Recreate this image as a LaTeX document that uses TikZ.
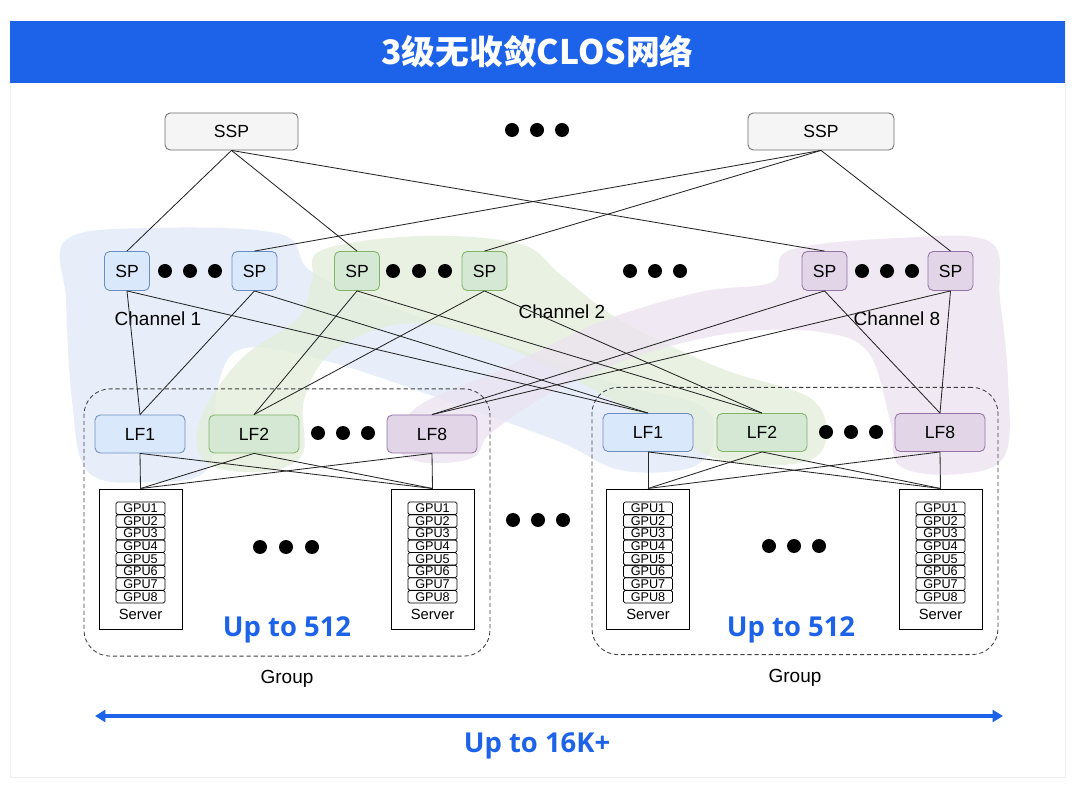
\documentclass[tikz,border=0pt]{standalone}
\usepackage{fontspec}
\setmainfont{Liberation Sans}
\newfontfamily\cjkfont{Noto Sans CJK SC}
\newfontfamily\capfont{Open Sans}
\usepackage{xcolor}
\usetikzlibrary{arrows.meta,positioning,calc}
\definecolor{titleblue}{RGB}{29,99,233}
\definecolor{chbfill}{RGB}{218,232,252}
\definecolor{chbline}{RGB}{108,142,191}
\definecolor{chgfill}{RGB}{213,232,212}
\definecolor{chgline}{RGB}{130,179,102}
\definecolor{chpfill}{RGB}{225,213,231}
\definecolor{chpline}{RGB}{150,115,166}
\definecolor{sspfill}{RGB}{245,245,245}
\definecolor{sspline}{RGB}{110,110,110}
\definecolor{blobb}{RGB}{224,233,249}
\definecolor{blobg}{RGB}{226,238,217}
\definecolor{blobp}{RGB}{235,226,240}

\begin{document}
\begin{tikzpicture}[x=0.25mm, y=-0.25mm,
  sw/.style={draw, rounded corners=1.3mm, line width=0.6pt, inner sep=0pt,
             font=\fontsize{12.5}{14}\selectfont},
  spb/.style={sw, minimum width=11.25mm, minimum height=9.75mm},
  ssp/.style={sw, fill=sspfill, draw=sspline, minimum height=9.25mm},
  lf/.style={sw, minimum width=22.5mm, minimum height=9.5mm},
  chb/.style={fill=chbfill, draw=chbline},
  chg/.style={fill=chgfill, draw=chgline},
  chp/.style={fill=chpfill, draw=chpline},
  srv/.style={draw, line width=0.7pt, fill=white, minimum width=20.75mm, minimum height=35mm},
  gpu/.style={draw, line width=0.55pt, rounded corners=0.4mm, minimum width=12.25mm,
              minimum height=3.16mm, inner sep=0pt, font=\fontsize{9}{9}\selectfont},
  grp/.style={draw=black!75, dash pattern=on 3pt off 2pt, rounded corners=6.5mm,
              line width=0.6pt, minimum width=101.5mm, minimum height=66.8mm},
  lk/.style={line width=0.6pt, black!85},
  blob/.style={opacity=0.75},
  big/.style={font=\capfont\bfseries\fontsize{19.5}{22}\selectfont, text=titleblue},
  lbl/.style={font=\fontsize{13.5}{16}\selectfont},
]
  \useasboundingbox (0,0) rectangle (1080,795);
  % card and title
  \draw[black!7, fill=white] (10,21) rectangle (1065,777);
  \node[fill=titleblue, minimum width=263.75mm, minimum height=15.5mm, inner sep=0pt,
        text=white, font=\cjkfont\bfseries\fontsize{24}{28}\selectfont] (title) at (537.5,52)
        {3级无收敛CLOS网络};

  % channel highlights
  \fill[blobb, blob] plot[smooth cycle, tension=0.6] coordinates {(66,240) (150,228) (280,234)
     (312,272) (400,310) (520,350) (620,385) (700,405) (714,440) (690,468) (620,470)
     (560,442) (450,402) (330,362) (245,348) (218,385) (208,468) (150,482) (88,472)
     (72,400) (66,300)};
  \fill[blobg, blob] plot[smooth cycle, tension=0.6] coordinates {(322,250) (420,236) (520,244)
     (562,276) (620,320) (720,368) (810,398) (826,440) (800,463) (720,460) (650,422)
     (560,372) (470,334) (400,324) (332,352) (304,400) (302,455) (260,472) (205,462)
     (200,420) (240,360) (298,318) (312,280)};
  \fill[blobp, blob] plot[smooth cycle, tension=0.6] coordinates {(790,250) (900,238) (990,242)
     (1000,300) (1008,380) (1005,455) (960,474) (900,466) (890,420) (868,352) (820,332)
     (740,332) (650,352) (560,388) (492,432) (472,458) (420,462) (394,442) (420,405)
     (500,370) (600,322) (700,292) (772,282)};

  % spine layer
  \node[ssp, minimum width=33.25mm] (sspL) at (231.5,131.5) {SSP};
  \node[ssp, minimum width=36.5mm] (sspR) at (821,131.5) {SSP};
  \node[spb, chb] (sp1) at (127,271) {SP};
  \node[spb, chb] (sp2) at (254.5,271) {SP};
  \node[spb, chg] (sp3) at (357,271) {SP};
  \node[spb, chg] (sp4) at (484.5,271) {SP};
  \node[spb, chp] (sp5) at (824.5,271) {SP};
  \node[spb, chp] (sp6) at (950.5,271) {SP};
  \node[lbl] (ch1) at (158,319) {Channel 1};
  \node[lbl] (ch2) at (562,312) {Channel 2};
  \node[lbl] (ch8) at (897,319) {Channel 8};

  % groups
  \node[grp] (grp1) at (287,522.5) {};
  \node[grp] (grp2) at (795,521) {};
  \node[lbl, below=2.2mm of grp1.south] (gl1) {Group};
  \node[lbl, below=2.2mm of grp2.south] (gl2) {Group};
  \node[lf, chb] (g1lf1) at (140,434) {LF1};
  \node[lf, chg] (g1lf2) at (254,434) {LF2};
  \node[lf, chp] (g1lf8) at (432,434) {LF8};
  \node[lf, chb] (g2lf1) at (648,432.5) {LF1};
  \node[lf, chg] (g2lf2) at (762,432.5) {LF2};
  \node[lf, chp] (g2lf8) at (940,432.5) {LF8};

  % servers
  \foreach \s/\x in {s1a/140.5, s1b/432.5, s2a/648, s2b/940.5} {
    \node[srv] (\s) at (\x,559) {};
    \foreach \i in {1,...,8}
      \node[gpu] (\s-gpu\i) at (\x,495.7+12.625*\i) {GPU\i};
    \node[font=\fontsize{10.5}{12}\selectfont] (\s-lbl) at (\x,614.5) {Server};
  }
  \node[big] (cap1) at (287,630) {Up to 512};
  \node[big] (cap2) at (791,630) {Up to 512};

  % links
  \foreach \a/\b in {sspL/sp1, sspL/sp3, sspL/sp5, sspR/sp2, sspR/sp4, sspR/sp6}
    \draw[lk] (\a.south) -- (\b.north);
  \foreach \a/\b in {sp1/g1lf1, sp1/g2lf1, sp2/g1lf1, sp2/g2lf1, sp3/g1lf2, sp3/g2lf2,
                     sp4/g1lf2, sp4/g2lf2, sp5/g1lf8, sp5/g2lf8, sp6/g1lf8, sp6/g2lf8}
    \draw[lk] (\a.south) -- (\b.north);
  \foreach \a/\b in {g1lf1/s1a, g1lf1/s1b, g1lf2/s1a, g1lf2/s1b, g1lf8/s1a, g1lf8/s1b,
                     g2lf1/s2a, g2lf1/s2b, g2lf2/s2a, g2lf2/s2b, g2lf8/s2a, g2lf8/s2b}
    \draw[lk] (\a.south) -- (\b.north);

  % ellipsis dots
  \foreach \x/\y in {512/130, 537/130, 562/130,
                     165/271, 190/271, 215/271, 393/271, 419/271, 445/271,
                     630/271, 655/271, 680/271, 862/271, 887/271, 912/271,
                     318/433, 343/433, 368/433, 826/432, 851/432, 876/432,
                     260/547, 286/547, 312/547, 769/546, 794/546, 819/546,
                     513/520, 538/520, 563/520}
    \fill (\x,\y) circle (1.75mm);

  % overall width
  \coordinate (wl) at (95,716);
  \coordinate (wr) at (1003,716);
  \draw[titleblue, line width=2.2pt, {Triangle[length=2.6mm,width=3mm]}-{Triangle[length=2.6mm,width=3mm]}] (wl) -- (wr);
  \node[big] (total) at (537,746) {Up to 16K+};
\end{tikzpicture}
\end{document}
